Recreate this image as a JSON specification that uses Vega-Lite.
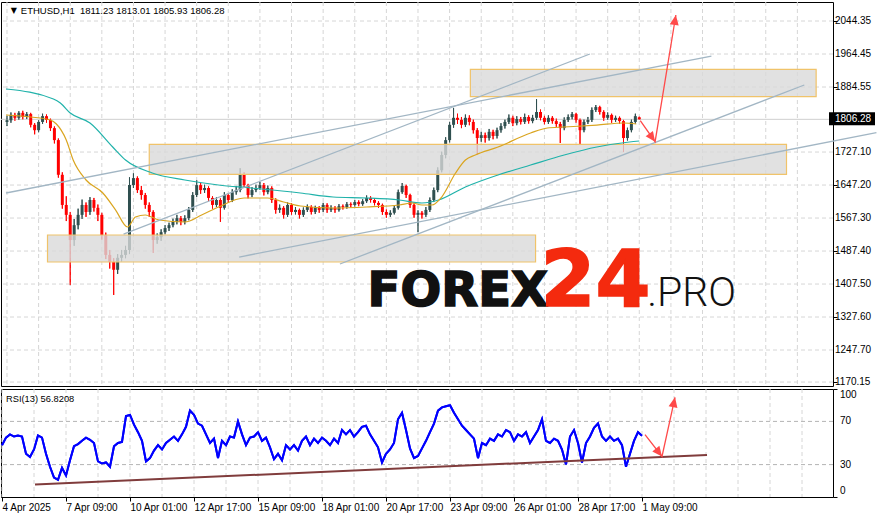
{
  "$schema": "https://vega.github.io/schema/vega-lite/v6.json",
  "padding": {"left": -3, "top": 1, "right": 0, "bottom": 0},
  "background": "white",
  "spacing": 3,
  "bounds": "flush",
  "config": {
    "view": {"stroke": "black", "strokeWidth": 1},
    "axis": {"labelFont": "Liberation Sans", "labelFontSize": 10, "labelColor": "black", "tickColor": "black", "domain": false, "labelOverlap": false, "labelBound": false},
    "font": "Liberation Sans"
  },
  "datasets": {
    "one": [{}],
    "vgrid": [{"g":0},{"g":32},{"g":64},{"g":96},{"g":128},{"g":160},{"g":192},{"g":224},{"g":256},{"g":288},{"g":320},{"g":352},{"g":384},{"g":416},{"g":448},{"g":480},{"g":512},{"g":544},{"g":576},{"g":608},{"g":640},{"g":672},{"g":704},{"g":736},{"g":768},{"g":800}],
    "pticks": [{"v":1170.15},{"v":1247.7},{"v":1327.6},{"v":1407.5},{"v":1487.4},{"v":1567.3},{"v":1647.2},{"v":1727.1},{"v":1884.55},{"v":1964.45},{"v":2044.35}],
    "candles": [
      {"i":0,"o":1800,"h":1815,"l":1790,"c":1804},{"i":4,"o":1804,"h":1823,"l":1798,"c":1817},{"i":8,"o":1817,"h":1822,"l":1803,"c":1810},{"i":12,"o":1810,"h":1826,"l":1805,"c":1822},
      {"i":16,"o":1822,"h":1827,"l":1806,"c":1812},{"i":20,"o":1812,"h":1824,"l":1807,"c":1819},{"i":24,"o":1819,"h":1822,"l":1787,"c":1793},{"i":28,"o":1793,"h":1797,"l":1770,"c":1780},
      {"i":32,"o":1780,"h":1804,"l":1775,"c":1800},{"i":36,"o":1800,"h":1820,"l":1795,"c":1814},{"i":40,"o":1814,"h":1818,"l":1798,"c":1805},{"i":44,"o":1805,"h":1808,"l":1778,"c":1785},
      {"i":48,"o":1785,"h":1789,"l":1748,"c":1756},{"i":52,"o":1756,"h":1760,"l":1665,"c":1672},{"i":56,"o":1672,"h":1678,"l":1590,"c":1599},{"i":60,"o":1599,"h":1620,"l":1560,"c":1575},
      {"i":64,"o":1575,"h":1582,"l":1405,"c":1514},{"i":68,"o":1514,"h":1565,"l":1500,"c":1550},{"i":72,"o":1550,"h":1590,"l":1540,"c":1575},{"i":76,"o":1575,"h":1612,"l":1565,"c":1599},
      {"i":80,"o":1599,"h":1605,"l":1570,"c":1582},{"i":84,"o":1582,"h":1618,"l":1575,"c":1611},{"i":88,"o":1611,"h":1616,"l":1583,"c":1592},{"i":92,"o":1592,"h":1600,"l":1560,"c":1575},
      {"i":96,"o":1575,"h":1580,"l":1515,"c":1526},{"i":100,"o":1526,"h":1532,"l":1468,"c":1478},{"i":104,"o":1478,"h":1490,"l":1445,"c":1461},{"i":108,"o":1461,"h":1470,"l":1381,"c":1442},
      {"i":112,"o":1442,"h":1480,"l":1432,"c":1471},{"i":116,"o":1471,"h":1490,"l":1462,"c":1478},{"i":120,"o":1478,"h":1500,"l":1470,"c":1490},{"i":124,"o":1490,"h":1666,"l":1480,"c":1647},
      {"i":128,"o":1647,"h":1676,"l":1640,"c":1664},{"i":132,"o":1664,"h":1668,"l":1628,"c":1635},{"i":136,"o":1635,"h":1645,"l":1612,"c":1623},{"i":140,"o":1623,"h":1628,"l":1590,"c":1599},
      {"i":144,"o":1599,"h":1605,"l":1570,"c":1582},{"i":148,"o":1582,"h":1586,"l":1483,"c":1514},{"i":152,"o":1514,"h":1530,"l":1505,"c":1521},{"i":156,"o":1521,"h":1540,"l":1512,"c":1533},
      {"i":160,"o":1533,"h":1550,"l":1528,"c":1543},{"i":164,"o":1543,"h":1556,"l":1536,"c":1550},{"i":168,"o":1550,"h":1566,"l":1545,"c":1558},{"i":172,"o":1558,"h":1575,"l":1552,"c":1567},
      {"i":176,"o":1567,"h":1572,"l":1550,"c":1558},{"i":180,"o":1558,"h":1574,"l":1552,"c":1567},{"i":184,"o":1567,"h":1594,"l":1562,"c":1587},{"i":188,"o":1587,"h":1630,"l":1582,"c":1623},
      {"i":192,"o":1623,"h":1659,"l":1618,"c":1647},{"i":196,"o":1647,"h":1652,"l":1626,"c":1635},{"i":200,"o":1635,"h":1648,"l":1628,"c":1640},{"i":204,"o":1640,"h":1644,"l":1608,"c":1616},
      {"i":208,"o":1616,"h":1620,"l":1590,"c":1599},{"i":212,"o":1599,"h":1618,"l":1594,"c":1611},{"i":216,"o":1611,"h":1615,"l":1558,"c":1592},{"i":220,"o":1592,"h":1630,"l":1588,"c":1623},
      {"i":224,"o":1623,"h":1628,"l":1604,"c":1611},{"i":228,"o":1611,"h":1637,"l":1606,"c":1630},{"i":232,"o":1630,"h":1645,"l":1624,"c":1635},{"i":236,"o":1635,"h":1688,"l":1630,"c":1672},
      {"i":240,"o":1672,"h":1678,"l":1640,"c":1647},{"i":244,"o":1647,"h":1650,"l":1615,"c":1623},{"i":248,"o":1623,"h":1642,"l":1618,"c":1635},{"i":252,"o":1635,"h":1648,"l":1630,"c":1640},
      {"i":256,"o":1640,"h":1655,"l":1636,"c":1647},{"i":260,"o":1647,"h":1652,"l":1622,"c":1630},{"i":264,"o":1630,"h":1646,"l":1625,"c":1640},{"i":268,"o":1640,"h":1644,"l":1604,"c":1611},
      {"i":272,"o":1611,"h":1615,"l":1578,"c":1587},{"i":276,"o":1587,"h":1600,"l":1580,"c":1592},{"i":280,"o":1592,"h":1596,"l":1566,"c":1575},{"i":284,"o":1575,"h":1605,"l":1570,"c":1599},
      {"i":288,"o":1599,"h":1603,"l":1575,"c":1582},{"i":292,"o":1582,"h":1594,"l":1576,"c":1587},{"i":296,"o":1587,"h":1590,"l":1566,"c":1575},{"i":300,"o":1575,"h":1593,"l":1570,"c":1587},
      {"i":304,"o":1587,"h":1600,"l":1582,"c":1594},{"i":308,"o":1594,"h":1598,"l":1576,"c":1582},{"i":312,"o":1582,"h":1597,"l":1577,"c":1592},{"i":316,"o":1592,"h":1596,"l":1580,"c":1587},
      {"i":320,"o":1587,"h":1604,"l":1582,"c":1599},{"i":324,"o":1599,"h":1603,"l":1580,"c":1587},{"i":328,"o":1587,"h":1598,"l":1582,"c":1592},{"i":332,"o":1592,"h":1596,"l":1580,"c":1587},
      {"i":336,"o":1587,"h":1601,"l":1583,"c":1596},{"i":340,"o":1596,"h":1600,"l":1588,"c":1594},{"i":344,"o":1594,"h":1606,"l":1590,"c":1601},{"i":348,"o":1601,"h":1605,"l":1593,"c":1599},
      {"i":352,"o":1599,"h":1611,"l":1595,"c":1606},{"i":356,"o":1606,"h":1610,"l":1596,"c":1601},{"i":360,"o":1601,"h":1613,"l":1597,"c":1608},{"i":364,"o":1608,"h":1622,"l":1604,"c":1616},
      {"i":368,"o":1616,"h":1620,"l":1605,"c":1611},{"i":372,"o":1611,"h":1615,"l":1598,"c":1604},{"i":376,"o":1604,"h":1608,"l":1592,"c":1599},{"i":380,"o":1599,"h":1602,"l":1575,"c":1582},
      {"i":384,"o":1582,"h":1588,"l":1568,"c":1575},{"i":388,"o":1575,"h":1586,"l":1570,"c":1580},{"i":392,"o":1580,"h":1598,"l":1576,"c":1592},{"i":396,"o":1592,"h":1636,"l":1588,"c":1630},
      {"i":400,"o":1630,"h":1652,"l":1626,"c":1645},{"i":404,"o":1645,"h":1648,"l":1616,"c":1623},{"i":408,"o":1623,"h":1626,"l":1592,"c":1599},{"i":412,"o":1599,"h":1603,"l":1568,"c":1575},
      {"i":416,"o":1575,"h":1586,"l":1533,"c":1580},{"i":420,"o":1580,"h":1584,"l":1566,"c":1575},{"i":424,"o":1575,"h":1594,"l":1570,"c":1587},{"i":428,"o":1587,"h":1617,"l":1582,"c":1611},
      {"i":432,"o":1611,"h":1641,"l":1606,"c":1635},{"i":436,"o":1635,"h":1690,"l":1630,"c":1683},{"i":440,"o":1683,"h":1728,"l":1678,"c":1720},{"i":444,"o":1720,"h":1763,"l":1712,"c":1756},
      {"i":448,"o":1756,"h":1800,"l":1750,"c":1793},{"i":452,"o":1793,"h":1834,"l":1786,"c":1810},{"i":456,"o":1810,"h":1820,"l":1795,"c":1805},{"i":460,"o":1805,"h":1812,"l":1785,"c":1793},
      {"i":464,"o":1793,"h":1818,"l":1788,"c":1810},{"i":468,"o":1810,"h":1816,"l":1792,"c":1800},{"i":472,"o":1800,"h":1806,"l":1772,"c":1780},{"i":476,"o":1780,"h":1785,"l":1720,"c":1761},
      {"i":480,"o":1761,"h":1776,"l":1752,"c":1768},{"i":484,"o":1768,"h":1774,"l":1750,"c":1761},{"i":488,"o":1761,"h":1783,"l":1755,"c":1776},{"i":492,"o":1776,"h":1781,"l":1758,"c":1766},
      {"i":496,"o":1766,"h":1786,"l":1760,"c":1780},{"i":500,"o":1780,"h":1797,"l":1774,"c":1790},{"i":504,"o":1790,"h":1806,"l":1784,"c":1800},{"i":508,"o":1800,"h":1818,"l":1795,"c":1810},
      {"i":512,"o":1810,"h":1815,"l":1790,"c":1797},{"i":516,"o":1797,"h":1814,"l":1792,"c":1807},{"i":520,"o":1807,"h":1812,"l":1794,"c":1800},{"i":524,"o":1800,"h":1820,"l":1795,"c":1812},
      {"i":528,"o":1812,"h":1816,"l":1796,"c":1802},{"i":532,"o":1802,"h":1817,"l":1797,"c":1810},{"i":536,"o":1810,"h":1855,"l":1805,"c":1824},{"i":540,"o":1824,"h":1830,"l":1804,"c":1810},
      {"i":544,"o":1810,"h":1815,"l":1794,"c":1800},{"i":548,"o":1800,"h":1816,"l":1795,"c":1810},{"i":552,"o":1810,"h":1814,"l":1796,"c":1802},{"i":556,"o":1802,"h":1808,"l":1788,"c":1795},
      {"i":560,"o":1795,"h":1800,"l":1749,"c":1785},{"i":564,"o":1785,"h":1811,"l":1780,"c":1805},{"i":568,"o":1805,"h":1818,"l":1800,"c":1812},{"i":572,"o":1812,"h":1824,"l":1806,"c":1819},
      {"i":576,"o":1819,"h":1822,"l":1798,"c":1805},{"i":580,"o":1805,"h":1808,"l":1744,"c":1780},{"i":584,"o":1780,"h":1806,"l":1775,"c":1800},{"i":588,"o":1800,"h":1812,"l":1795,"c":1805},
      {"i":592,"o":1805,"h":1835,"l":1800,"c":1829},{"i":596,"o":1829,"h":1841,"l":1824,"c":1836},{"i":600,"o":1836,"h":1839,"l":1818,"c":1824},{"i":604,"o":1824,"h":1828,"l":1803,"c":1810},
      {"i":608,"o":1810,"h":1823,"l":1805,"c":1817},{"i":612,"o":1817,"h":1820,"l":1798,"c":1805},{"i":616,"o":1805,"h":1815,"l":1800,"c":1810},{"i":620,"o":1810,"h":1813,"l":1796,"c":1802},
      {"i":624,"o":1802,"h":1805,"l":1727,"c":1761},{"i":628,"o":1761,"h":1786,"l":1755,"c":1780},{"i":632,"o":1780,"h":1806,"l":1775,"c":1800},{"i":636,"o":1800,"h":1820,"l":1796,"c":1814},
      {"i":640,"o":1811.23,"h":1813.01,"l":1805.93,"c":1806.28}
    ],
    "rsi": [
      {"i":0,"r":48},{"i":4,"r":55},{"i":8,"r":58},{"i":12,"r":56},{"i":16,"r":57},{"i":20,"r":56},{"i":24,"r":40},{"i":28,"r":37},{"i":32,"r":44},{"i":36,"r":57},
      {"i":40,"r":55},{"i":44,"r":40},{"i":48,"r":28},{"i":52,"r":18},{"i":56,"r":16},{"i":60,"r":27},{"i":64,"r":20},{"i":68,"r":34},{"i":72,"r":47},{"i":76,"r":49},
      {"i":80,"r":52},{"i":84,"r":55},{"i":88,"r":53},{"i":92,"r":50},{"i":96,"r":33},{"i":100,"r":31},{"i":104,"r":32},{"i":108,"r":28},{"i":112,"r":47},{"i":116,"r":50},
      {"i":120,"r":51},{"i":124,"r":75},{"i":128,"r":76},{"i":132,"r":67},{"i":136,"r":60},{"i":140,"r":52},{"i":144,"r":33},{"i":148,"r":36},{"i":152,"r":43},{"i":156,"r":48},
      {"i":160,"r":44},{"i":164,"r":50},{"i":168,"r":53},{"i":172,"r":56},{"i":176,"r":52},{"i":180,"r":58},{"i":184,"r":65},{"i":188,"r":80},{"i":192,"r":76},{"i":196,"r":68},
      {"i":200,"r":66},{"i":204,"r":58},{"i":208,"r":50},{"i":212,"r":54},{"i":216,"r":36},{"i":220,"r":52},{"i":224,"r":48},{"i":228,"r":56},{"i":232,"r":55},{"i":236,"r":70},
      {"i":240,"r":58},{"i":244,"r":48},{"i":248,"r":55},{"i":252,"r":56},{"i":256,"r":60},{"i":260,"r":52},{"i":264,"r":55},{"i":268,"r":46},{"i":272,"r":35},{"i":276,"r":40},
      {"i":280,"r":34},{"i":284,"r":48},{"i":288,"r":44},{"i":292,"r":48},{"i":296,"r":43},{"i":300,"r":52},{"i":304,"r":56},{"i":308,"r":48},{"i":312,"r":54},{"i":316,"r":50},
      {"i":320,"r":55},{"i":324,"r":52},{"i":328,"r":48},{"i":332,"r":54},{"i":336,"r":50},{"i":340,"r":62},{"i":344,"r":58},{"i":348,"r":62},{"i":352,"r":56},{"i":356,"r":60},
      {"i":360,"r":65},{"i":364,"r":66},{"i":368,"r":58},{"i":372,"r":52},{"i":376,"r":46},{"i":380,"r":32},{"i":384,"r":40},{"i":388,"r":44},{"i":392,"r":50},{"i":396,"r":72},
      {"i":400,"r":78},{"i":404,"r":62},{"i":408,"r":45},{"i":412,"r":36},{"i":416,"r":38},{"i":420,"r":45},{"i":424,"r":52},{"i":428,"r":60},{"i":432,"r":68},{"i":436,"r":80},
      {"i":440,"r":83},{"i":444,"r":84},{"i":448,"r":85},{"i":452,"r":78},{"i":456,"r":72},{"i":460,"r":66},{"i":464,"r":62},{"i":468,"r":58},{"i":472,"r":54},{"i":476,"r":36},
      {"i":480,"r":50},{"i":484,"r":48},{"i":488,"r":54},{"i":492,"r":52},{"i":496,"r":58},{"i":500,"r":56},{"i":504,"r":62},{"i":508,"r":60},{"i":512,"r":52},{"i":516,"r":58},
      {"i":520,"r":56},{"i":524,"r":60},{"i":528,"r":50},{"i":532,"r":56},{"i":536,"r":62},{"i":540,"r":72},{"i":544,"r":52},{"i":548,"r":50},{"i":552,"r":54},{"i":556,"r":52},
      {"i":560,"r":44},{"i":564,"r":30},{"i":568,"r":56},{"i":572,"r":62},{"i":576,"r":50},{"i":580,"r":32},{"i":584,"r":50},{"i":588,"r":56},{"i":592,"r":64},{"i":596,"r":68},
      {"i":600,"r":56},{"i":604,"r":52},{"i":608,"r":56},{"i":612,"r":52},{"i":616,"r":54},{"i":620,"r":48},{"i":624,"r":28},{"i":628,"r":40},{"i":632,"r":52},{"i":636,"r":60},
      {"i":640,"r":56.82}
    ],
    "teal": [
      {"i":-1,"p":1879.7},{"i":47,"p":1855.5},{"i":54,"p":1845.8},{"i":64,"p":1821.6},{"i":84,"p":1797.4},{"i":107,"p":1739.3},{"i":120,"p":1707.8},{"i":147,"p":1676.3},
      {"i":180,"p":1659.4},{"i":214,"p":1647.3},{"i":247,"p":1640},{"i":297,"p":1627.9},{"i":330,"p":1618.2},{"i":364,"p":1615.8},{"i":397,"p":1611},{"i":420,"p":1603.7},
      {"i":437,"p":1611},{"i":464,"p":1642.4},{"i":497,"p":1671.5},{"i":530,"p":1695.7},{"i":564,"p":1719.9},{"i":597,"p":1739.3},{"i":630,"p":1751.4},{"i":640,"p":1753.8}
    ],
    "orange": [
      {"i":-1,"p":1816.8},{"i":24,"p":1812},{"i":44,"p":1804.7},{"i":50,"p":1795},{"i":60,"p":1756.2},{"i":67,"p":1707.8},{"i":80,"p":1659.4},{"i":97,"p":1627.9},
      {"i":110,"p":1586.7},{"i":122,"p":1545.6},{"i":130,"p":1569.8},{"i":140,"p":1574.6},{"i":154,"p":1562.5},{"i":180,"p":1557.7},{"i":197,"p":1574.6},{"i":214,"p":1594},
      {"i":240,"p":1615.8},{"i":264,"p":1615.8},{"i":280,"p":1606.1},{"i":297,"p":1596.4},{"i":330,"p":1591.6},{"i":364,"p":1594},{"i":397,"p":1598.9},{"i":410,"p":1603.7},
      {"i":420,"p":1598.9},{"i":430,"p":1598.9},{"i":440,"p":1618.2},{"i":454,"p":1676.3},{"i":464,"p":1707.8},{"i":474,"p":1719.9},{"i":497,"p":1739.3},{"i":530,"p":1773.2},
      {"i":547,"p":1785.3},{"i":564,"p":1787.7},{"i":597,"p":1792.5},{"i":624,"p":1797.4},{"i":637,"p":1795}
    ],
    "zones": [
      {"i1":469,"i2":819,"p1":1861.1,"p2":1927.4},
      {"i1":144,"i2":789,"p1":1673.2,"p2":1745.8},
      {"i1":41,"i2":535,"p1":1460.8,"p2":1526.2}
    ],
    "trend": [
      {"id":"L1","i":-1,"p":1627.9},{"id":"L1","i":713,"p":1959.6},
      {"id":"L2","i":118,"p":1528.6},{"id":"L2","i":590,"p":1964.5},
      {"id":"L3","i":235,"p":1472.9},{"id":"L3","i":880,"p":1773.9},
      {"id":"L4","i":337,"p":1456.0},{"id":"L4","i":807,"p":1889.4}
    ]
  },
  "vconcat": [
    {
      "width": 832,
      "height": 384,
      "layer": [
        {
          "data": {"name": "candles"},
          "mark": {"type": "rule", "strokeWidth": 1, "clip": true},
          "encoding": {
            "x": {"field": "i", "type": "quantitative", "title": null, "scale": {"domain": [-1, 831], "nice": false, "zero": false},
              "axis": {"values": [0, 64, 128], "labels": false, "ticks": false, "grid": false, "title": null}},
            "y": {"field": "l", "type": "quantitative", "title": null, "scale": {"domain": [1160.6, 2090.4], "nice": false, "zero": false},
              "axis": {"orient": "right", "values": [1170.15, 1247.7, 1327.6, 1407.5, 1487.4, 1567.3, 1647.2, 1727.1, 1884.55, 1964.45, 2044.35], "labels": false, "grid": false, "tickSize": 4, "title": null}},
            "y2": {"field": "h"},
            "color": {"condition": {"test": "datum.c >= datum.o", "value": "#2f4f4f"}, "value": "#ff0000"}
          }
        },
        {
          "data": {"name": "vgrid"},
          "mark": {"type": "rule", "color": "#d6d6d6", "strokeDash": [4, 3], "strokeWidth": 1},
          "encoding": {"x": {"field": "g", "type": "quantitative", "title": null}}
        },
        {
          "data": {"name": "pticks"},
          "mark": {"type": "rule", "color": "#d6d6d6", "strokeDash": [4, 3], "strokeWidth": 1},
          "encoding": {"y": {"field": "v", "type": "quantitative", "title": null}}
        },
        {
          "data": {"name": "pticks"},
          "mark": {"type": "text", "font": "Liberation Sans", "fontSize": 10, "color": "black", "align": "left", "baseline": "middle", "dx": 7, "clip": false},
          "encoding": {"x": {"datum": 831, "type": "quantitative", "title": null}, "y": {"field": "v", "type": "quantitative", "title": null}, "text": {"field": "v", "type": "quantitative", "format": ".2f"}}
        },
        {
          "data": {"values": [{"p": 1806.28}]},
          "mark": {"type": "rule", "color": "#cfcfcf", "strokeWidth": 1},
          "encoding": {
            "y": {"field": "p", "type": "quantitative", "title": null}
          }
        },
        {
          "data": {"name": "candles"},
          "mark": {"type": "rule", "strokeWidth": 1, "clip": true},
          "encoding": {
            "x": {"field": "i", "type": "quantitative", "title": null},
            "y": {"field": "l", "type": "quantitative", "title": null},
            "y2": {"field": "h"},
            "color": {"condition": {"test": "datum.c >= datum.o", "value": "#2f4f4f"}, "value": "#ff0000"}
          }
        },
        {
          "data": {"name": "candles"},
          "mark": {"type": "bar", "width": 3, "clip": true},
          "encoding": {
            "x": {"field": "i", "type": "quantitative", "title": null},
            "y": {"field": "o", "type": "quantitative", "title": null},
            "y2": {"field": "c"},
            "color": {"condition": {"test": "datum.c >= datum.o", "value": "#2f4f4f"}, "value": "#ff0000"}
          }
        },
        {
          "data": {"name": "zones"},
          "mark": {"type": "rect", "fill": "#d9d9d9", "fillOpacity": 0.8, "stroke": "#f0c36a", "strokeWidth": 1.2},
          "encoding": {
            "x": {"field": "i1", "type": "quantitative", "title": null},
            "x2": {"field": "i2"},
            "y": {"field": "p1", "type": "quantitative", "title": null},
            "y2": {"field": "p2"}
          }
        },
        {
          "data": {"name": "teal"},
          "mark": {"type": "line", "color": "#20b2aa", "strokeWidth": 1.2, "interpolate": "monotone"},
          "encoding": {
            "x": {"field": "i", "type": "quantitative", "title": null},
            "y": {"field": "p", "type": "quantitative", "title": null}
          }
        },
        {
          "data": {"name": "orange"},
          "mark": {"type": "line", "color": "#daa520", "strokeWidth": 1.2, "interpolate": "monotone"},
          "encoding": {
            "x": {"field": "i", "type": "quantitative", "title": null},
            "y": {"field": "p", "type": "quantitative", "title": null}
          }
        },
        {
          "data": {"name": "trend"},
          "mark": {"type": "line", "color": "#a2b6c4", "strokeWidth": 1.3, "clip": false},
          "encoding": {
            "x": {"field": "i", "type": "quantitative", "title": null},
            "y": {"field": "p", "type": "quantitative", "title": null},
            "detail": {"field": "id"}
          }
        },
        {
          "data": {"values": [{"i": 641, "p": 1803.0}, {"i": 656, "p": 1752.1}, {"i": 677, "p": 2058.9}]},
          "mark": {"type": "line", "color": "#ff4a4a", "strokeWidth": 1.3},
          "encoding": {
            "x": {"field": "i", "type": "quantitative", "title": null},
            "y": {"field": "p", "type": "quantitative", "title": null}
          }
        },
        {
          "data": {"values": [{"i": 656, "p": 1752.1}]},
          "mark": {"type": "point", "shape": "M0,0L0.45,1L-0.45,1Z", "size": 400, "angle": 144.5, "filled": true, "color": "#ff4a4a", "opacity": 1},
          "encoding": {
            "x": {"field": "i", "type": "quantitative", "title": null},
            "y": {"field": "p", "type": "quantitative", "title": null}
          }
        },
        {
          "data": {"values": [{"i": 677, "p": 2058.9}]},
          "mark": {"type": "point", "shape": "M0,0L0.45,1L-0.45,1Z", "size": 400, "angle": 9.3, "filled": true, "color": "#ff4a4a", "opacity": 1},
          "encoding": {
            "x": {"field": "i", "type": "quantitative", "title": null},
            "y": {"field": "p", "type": "quantitative", "title": null}
          }
        },
        {
          "data": {"name": "one"},
          "mark": {"type": "text", "text": "FOREX", "font": "DejaVu Sans", "fontWeight": "bold", "fontSize": 48, "color": "#111111", "stroke": "#111111", "strokeWidth": 1.6, "align": "left", "baseline": "alphabetic"},
          "encoding": {"x": {"datum": 365, "type": "quantitative", "title": null}, "y": {"datum": 1354.3, "type": "quantitative", "title": null}}
        },
        {
          "data": {"name": "one"},
          "mark": {"type": "text", "text": "24", "font": "DejaVu Sans", "fontWeight": "bold", "fontSize": 79, "color": "#f42a0e", "stroke": "#f42a0e", "strokeWidth": 1.6, "align": "left", "baseline": "alphabetic"},
          "encoding": {"x": {"datum": 540, "type": "quantitative", "title": null}, "y": {"datum": 1354.3, "type": "quantitative", "title": null}}
        },
        {
          "data": {"name": "one"},
          "mark": {"type": "text", "text": ".PRO", "font": "Roboto", "fontWeight": 300, "fontSize": 41, "color": "#111111", "align": "left", "baseline": "alphabetic"},
          "encoding": {"x": {"datum": 648, "type": "quantitative", "title": null}, "y": {"datum": 1354.3, "type": "quantitative", "title": null}}
        },
        {
          "data": {"name": "one"},
          "mark": {"type": "text", "text": "▼", "font": "DejaVu Sans", "fontSize": 8, "color": "black", "align": "center", "baseline": "middle"},
          "encoding": {"x": {"datum": 7, "type": "quantitative", "title": null}, "y": {"datum": 2069.8, "type": "quantitative", "title": null}}
        },
        {
          "data": {"name": "one"},
          "mark": {"type": "text", "text": "ETHUSD,H1\u00a0\u00a01811.23 1813.01 1805.93 1806.28", "font": "Liberation Sans", "fontSize": 9.5, "color": "black", "align": "left", "baseline": "middle"},
          "encoding": {"x": {"datum": 14, "type": "quantitative", "title": null}, "y": {"datum": 2069.8, "type": "quantitative", "title": null}}
        },
        {
          "data": {"name": "one"},
          "mark": {"type": "rect", "color": "black", "xOffset": 1, "x2Offset": 47, "yOffset": -7, "y2Offset": 6, "clip": false},
          "encoding": {"x": {"datum": 831, "type": "quantitative", "title": null}, "x2": {"datum": 831}, "y": {"datum": 1806.28, "type": "quantitative", "title": null}, "y2": {"datum": 1806.28}}
        },
        {
          "data": {"name": "one"},
          "mark": {"type": "text", "text": "1806.28", "font": "Liberation Sans", "fontSize": 10, "color": "white", "align": "left", "baseline": "middle", "dx": 7, "clip": false},
          "encoding": {"x": {"datum": 831, "type": "quantitative", "title": null}, "y": {"datum": 1806.28, "type": "quantitative", "title": null}}
        }
      ]
    },
    {
      "width": 832,
      "height": 108,
      "layer": [
        {
          "data": {"name": "rsi"},
          "mark": {"type": "line", "color": "#0000ff", "strokeWidth": 2},
          "encoding": {
            "x": {"field": "i", "type": "quantitative", "title": null, "scale": {"domain": [-1, 831], "nice": false, "zero": false},
              "axis": {"values": [0, 64, 128, 192, 256, 320, 384, 448, 512, 576, 640],
                "grid": false, "tickSize": 4,
                "labelExpr": "['4 Apr 2025','7 Apr 09:00','10 Apr 01:00','12 Apr 17:00','15 Apr 09:00','18 Apr 01:00','20 Apr 17:00','23 Apr 09:00','26 Apr 01:00','28 Apr 17:00','1 May 09:00'][round(datum.value / 64)]",
                "labelAlign": "left", "labelOverlap": false, "labelFlush": false, "labelBound": false, "labelPadding": 1, "labelFontSize": 10, "title": null}},
            "y": {"field": "r", "type": "quantitative", "title": null, "scale": {"domain": [0, 100], "nice": false, "zero": false},
              "axis": {"orient": "right", "values": [0, 30, 70, 100], "labels": false, "grid": false, "tickSize": 4, "title": null}}
          }
        },
        {
          "data": {"name": "vgrid"},
          "mark": {"type": "rule", "color": "#d6d6d6", "strokeDash": [4, 3], "strokeWidth": 1},
          "encoding": {"x": {"field": "g", "type": "quantitative", "title": null}}
        },
        {
          "data": {"values": [{"v": 30}, {"v": 70}]},
          "mark": {"type": "rule", "color": "#b3b3b3", "strokeDash": [4, 3], "strokeWidth": 1},
          "encoding": {
            "y": {"field": "v", "type": "quantitative", "title": null}
          }
        },
        {
          "data": {"values": [{"v": 30}, {"v": 70}]},
          "mark": {"type": "text", "font": "Liberation Sans", "fontSize": 10, "color": "black", "align": "left", "baseline": "middle", "dx": 7, "clip": false},
          "encoding": {"x": {"datum": 831, "type": "quantitative", "title": null}, "y": {"field": "v", "type": "quantitative", "title": null}, "text": {"field": "v", "type": "quantitative"}}
        },
        {
          "data": {"values": [{"v": 100}]},
          "mark": {"type": "text", "font": "Liberation Sans", "fontSize": 10, "color": "black", "align": "left", "baseline": "top", "dx": 7, "dy": 1, "clip": false},
          "encoding": {"x": {"datum": 831, "type": "quantitative", "title": null}, "y": {"field": "v", "type": "quantitative", "title": null}, "text": {"field": "v", "type": "quantitative"}}
        },
        {
          "data": {"values": [{"v": 0}]},
          "mark": {"type": "text", "font": "Liberation Sans", "fontSize": 10, "color": "black", "align": "left", "baseline": "bottom", "dx": 7, "dy": -1, "clip": false},
          "encoding": {"x": {"datum": 831, "type": "quantitative", "title": null}, "y": {"field": "v", "type": "quantitative", "title": null}, "text": {"field": "v", "type": "quantitative"}}
        },
        {
          "data": {"name": "rsi"},
          "mark": {"type": "line", "color": "#0000ff", "strokeWidth": 2},
          "encoding": {
            "x": {"field": "i", "type": "quantitative", "title": null},
            "y": {"field": "r", "type": "quantitative", "title": null}
          }
        },
        {
          "data": {"values": [{"i": 33, "r": 11.5}, {"i": 705, "r": 39}]},
          "mark": {"type": "line", "color": "#803c3c", "strokeWidth": 2},
          "encoding": {
            "x": {"field": "i", "type": "quantitative", "title": null},
            "y": {"field": "r", "type": "quantitative", "title": null}
          }
        },
        {
          "data": {"values": [{"i": 643, "r": 57.7}, {"i": 660, "r": 37.5}, {"i": 673, "r": 92.3}]},
          "mark": {"type": "line", "color": "#ff4a4a", "strokeWidth": 1.3},
          "encoding": {
            "x": {"field": "i", "type": "quantitative", "title": null},
            "y": {"field": "r", "type": "quantitative", "title": null}
          }
        },
        {
          "data": {"values": [{"i": 660, "r": 37.5}]},
          "mark": {"type": "point", "shape": "M0,0L0.45,1L-0.45,1Z", "size": 400, "angle": 142, "filled": true, "color": "#ff4a4a", "opacity": 1},
          "encoding": {
            "x": {"field": "i", "type": "quantitative", "title": null},
            "y": {"field": "r", "type": "quantitative", "title": null}
          }
        },
        {
          "data": {"values": [{"i": 673, "r": 92.3}]},
          "mark": {"type": "point", "shape": "M0,0L0.45,1L-0.45,1Z", "size": 400, "angle": 11.4, "filled": true, "color": "#ff4a4a", "opacity": 1},
          "encoding": {
            "x": {"field": "i", "type": "quantitative", "title": null},
            "y": {"field": "r", "type": "quantitative", "title": null}
          }
        },
        {
          "data": {"name": "one"},
          "mark": {"type": "text", "text": "RSI(13) 56.8208", "font": "Liberation Sans", "fontSize": 9.3, "color": "black", "align": "left", "baseline": "middle"},
          "encoding": {"x": {"datum": 4, "type": "quantitative", "title": null}, "y": {"datum": 91, "type": "quantitative", "title": null}}
        }
      ]
    }
  ]
}
